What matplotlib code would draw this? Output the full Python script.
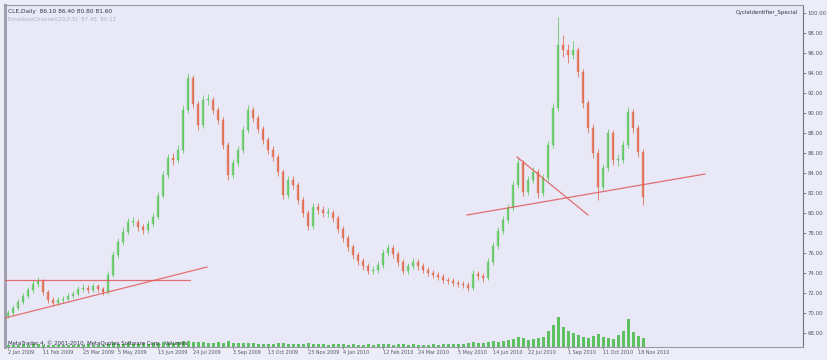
import matplotlib
matplotlib.use("Agg")
import matplotlib.pyplot as plt
import numpy as np

# ---------------- data ----------------
first_open = 69.7
closes = [70.0, 70.5, 71.1, 71.7, 72.3, 72.9, 73.2, 72.1, 71.3, 71.0,
          71.3, 71.4, 71.7, 71.9, 72.4, 72.5, 72.3, 72.7, 72.4, 72.1,
          73.8, 75.8, 77.1, 78.1, 79.1, 79.1, 78.6, 78.3, 78.9, 79.6,
          81.7, 83.8, 85.5, 85.3, 86.3, 90.3, 93.5, 90.9, 88.8, 91.3,
          91.3, 90.3, 89.3, 86.8, 83.8, 85.0, 86.3, 88.3, 90.3, 89.5,
          88.4, 87.3, 86.3, 85.6, 84.1, 81.8, 83.3, 82.8, 81.3, 80.0,
          78.7, 80.6, 80.3, 80.0, 80.0, 79.5, 78.4, 77.5, 76.6, 75.8,
          75.2, 74.7, 74.2, 74.3, 74.8, 76.0, 76.5, 75.9, 75.1, 74.2,
          74.7, 75.1, 74.7, 74.3, 74.0, 73.8, 73.6, 73.3, 73.2, 73.0,
          72.9, 72.8, 72.5, 73.9, 73.7, 73.5, 75.1, 76.7, 78.2, 79.3,
          80.5, 82.8, 85.0, 82.1, 83.3, 84.1, 82.0, 83.5, 86.8, 90.5,
          96.8, 96.3, 95.8, 96.3, 94.1, 91.0, 88.5, 86.0, 82.6, 84.5,
          88.0, 85.3, 85.3, 86.8, 90.1, 88.5, 86.1, 81.6]
highs = [70.3, 70.8, 71.4, 72.0, 72.6, 73.3, 73.6, 73.4, 72.3, 71.6,
         71.6, 71.7, 72.0, 72.2, 72.7, 72.9, 72.8, 73.0, 72.9, 72.6,
         74.2, 76.2, 77.5, 78.6, 79.5, 79.6, 79.4, 78.9, 79.3, 80.0,
         82.1, 84.2, 85.9, 86.0, 86.8, 90.8, 94.0, 93.8, 91.2, 91.8,
         91.9, 91.6, 90.6, 89.6, 87.1, 85.4, 86.7, 88.7, 90.8, 90.6,
         89.8, 88.7, 87.6, 86.7, 85.9, 84.4, 83.7, 83.7, 83.1, 81.6,
         80.3, 81.0, 81.0, 80.7, 80.5, 80.3, 79.8, 78.7, 77.8, 76.9,
         76.1, 75.5, 75.0, 74.7, 75.2, 76.4, 76.9, 76.8, 76.2, 75.4,
         75.0, 75.5, 75.4, 75.0, 74.6, 74.3, 74.1, 73.9, 73.6, 73.5,
         73.3, 73.2, 73.1, 74.3, 74.2, 74.0, 75.5, 77.1, 78.6, 79.7,
         80.9, 83.2, 85.5, 85.3, 83.7, 84.6, 84.4, 83.9, 87.2, 91.0,
         99.6, 97.8, 96.9, 97.2, 96.6, 94.4, 91.3, 88.9, 86.4, 84.9,
         88.4, 88.3, 85.9, 87.2, 90.6, 90.4, 88.8, 86.4]
lows = [69.5, 69.8, 70.3, 70.9, 71.5, 72.0, 72.6, 71.8, 71.0, 70.7,
        70.8, 71.0, 71.2, 71.5, 71.7, 72.1, 72.0, 72.1, 72.1, 71.8,
        71.9, 73.6, 75.5, 76.8, 77.9, 78.7, 78.2, 77.9, 78.0, 78.6,
        79.4, 81.5, 83.5, 84.8, 85.0, 86.0, 90.0, 90.5, 88.3, 88.5,
        90.8, 89.9, 88.9, 86.4, 83.3, 83.5, 84.7, 86.0, 88.0, 89.1,
        88.0, 86.9, 85.9, 85.2, 83.7, 81.4, 81.5, 82.4, 80.9, 79.6,
        78.3, 78.4, 79.9, 79.6, 79.6, 79.1, 78.0, 77.1, 76.2, 75.4,
        74.8, 74.3, 73.9, 73.9, 74.0, 74.5, 75.7, 75.5, 74.7, 73.9,
        73.9, 74.4, 74.3, 74.0, 73.7, 73.5, 73.3, 73.0, 72.9, 72.7,
        72.6, 72.5, 72.2, 72.3, 73.3, 73.1, 73.3, 74.8, 76.4, 77.9,
        79.0, 80.2, 82.5, 81.7, 81.8, 83.0, 81.5, 81.7, 83.2, 86.5,
        90.2, 95.6, 95.0, 95.4, 93.6, 90.5, 88.0, 85.5, 81.3, 82.3,
        84.2, 84.8, 84.7, 85.0, 86.5, 88.0, 85.6, 80.8]
volumes = [18, 22, 20, 25, 19, 24, 28, 21, 17, 20,
           22, 18, 20, 23, 19, 21, 24, 20, 18, 22,
           30, 34, 28, 32, 36, 30, 27, 33, 29, 35,
           40, 44, 38, 42, 46, 55, 60, 48, 44, 50,
           42, 38, 45, 40, 52, 36, 34, 38, 42, 35,
           30, 28, 26, 30, 33, 38, 28, 25, 27, 30,
           34, 28, 24, 26, 22, 25, 28, 24, 22, 26,
           23, 20, 24, 22, 26, 30, 25, 22, 24, 27,
           22, 25, 21, 23, 20, 24, 22, 26, 24, 28,
           30, 32, 40, 45, 38, 42, 50, 55, 48, 60,
           65, 72, 90, 85, 70, 78, 88, 95, 150, 210,
           280, 190, 150, 130, 110, 95, 85, 100, 120, 90,
           80, 75, 110, 150, 260, 140, 100, 80]

# trend lines (bar index, price)
tl1_x = [-0.6, 36.4];   tl1_y = [73.3, 73.3]
tl2_x = [-0.6, 39.8];   tl2_y = [69.5, 74.6]
tl3_x = [91.8, 139.4];  tl3_y = [79.8, 83.9]
tl4_x = [101.8, 116.0]; tl4_y = [85.6, 79.8]

price_ticks = [100, 98, 96, 94, 92, 90, 88, 86, 84, 82, 80, 78, 76, 74, 72, 70, 68]
date_pos = [0, 7, 15, 22, 30, 37, 45, 52, 60, 67, 75, 82, 90, 97, 104, 112, 119, 126]
date_labels = ["2 Jan 2009", "11 Feb 2009", "25 Mar 2009", "5 May 2009",
               "15 Jun 2009", "24 Jul 2009", "3 Sep 2009", "13 Oct 2009",
               "23 Nov 2009", "4 Jan 2010", "12 Feb 2010", "24 Mar 2010",
               "5 May 2010", "14 Jun 2010", "22 Jul 2010", "1 Sep 2010",
               "11 Oct 2010", "18 Nov 2010"]

# ---------------- drawing ----------------
BG = "#e8e8f7"
UP = "#5cc85c"
DN = "#e06846"

fig = plt.figure(figsize=(8.27, 3.6), dpi=100, facecolor="#ededf8")
pos = [5 / 827, 13 / 360, (803 - 5) / 827, (347 - 5) / 360]
ax = fig.add_axes(pos)
ax.set_facecolor(BG)

n = len(closes)
idx = np.arange(n)
opens = [first_open] + closes[:-1]
cols = [UP if c >= o else DN for o, c in zip(opens, closes)]
bottoms = [min(o, c) for o, c in zip(opens, closes)]
heights = [max(abs(c - o), 0.12) for o, c in zip(opens, closes)]

ax.vlines(idx, lows, highs, colors=cols, linewidth=0.7, alpha=0.8, zorder=3)
ax.bar(idx, heights, bottom=bottoms, width=0.42, color=cols, alpha=0.75,
       edgecolor=cols, linewidth=0.3, zorder=4)

for tx, ty in [(tl1_x, tl1_y), (tl2_x, tl2_y), (tl3_x, tl3_y), (tl4_x, tl4_y)]:
    ax.plot(tx, ty, color="#e05a5a", linewidth=0.9, alpha=0.85, zorder=5)

ax.set_xlim(-0.6, 159)
ax.set_ylim(66.6, 100.8)

ax.yaxis.tick_right()
ax.set_yticks(price_ticks)
ax.set_yticklabels([f"{v:.2f}" for v in price_ticks])
ax.tick_params(axis="y", labelsize=3.9, colors="#555566", length=2.0, width=0.5, pad=1.0)
ax.set_xticks(date_pos)
ax.set_xticklabels(date_labels)
ax.tick_params(axis="x", labelsize=3.5, colors="#555566", length=1.5, width=0.5, pad=1.0)
for lbl in ax.get_xticklabels():
    lbl.set_horizontalalignment("left")

for s in ["top", "bottom"]:
    ax.spines[s].set_color("#9a9aa8")
    ax.spines[s].set_linewidth(0.8)
ax.spines["left"].set_color("#a0a0b0")
ax.spines["left"].set_linewidth(2.2)
ax.spines["right"].set_color("#707080")
ax.spines["right"].set_linewidth(0.8)

# volume overlay
vax = fig.add_axes(pos, sharex=ax)
vax.patch.set_visible(False)
vax.bar(idx, volumes, width=0.6, color="#2fb52f", alpha=0.75, zorder=2)
vax.set_ylim(0, 3200)
vax.axis("off")

# texts
fig.text(8 / 827, 1 - 11 / 360,
         f"CLE,Daily  {opens[-1]:.2f} {highs[-1]:.2f} {lows[-1]:.2f} {closes[-1]:.2f}",
         fontsize=4.2, color="#333344", va="center")
fig.text(8 / 827, 1 - 19 / 360, "EnvelopeChannel(20,0.5)  87.45  80.12",
         fontsize=4.0, color="#b0b0c0", va="center")
fig.text(798 / 827, 1 - 12 / 360, "CycleIdentifier_Special",
         fontsize=4.0, color="#333344", va="center", ha="right")
fig.text(8 / 827, 1 - 343 / 360,
         "MetaTrader 4, \u00a9 2001-2010, MetaQuotes Software Corp.  Volumes",
         fontsize=3.9, color="#333344", va="center")

fig.savefig("out.png", dpi=100, facecolor=fig.get_facecolor())
